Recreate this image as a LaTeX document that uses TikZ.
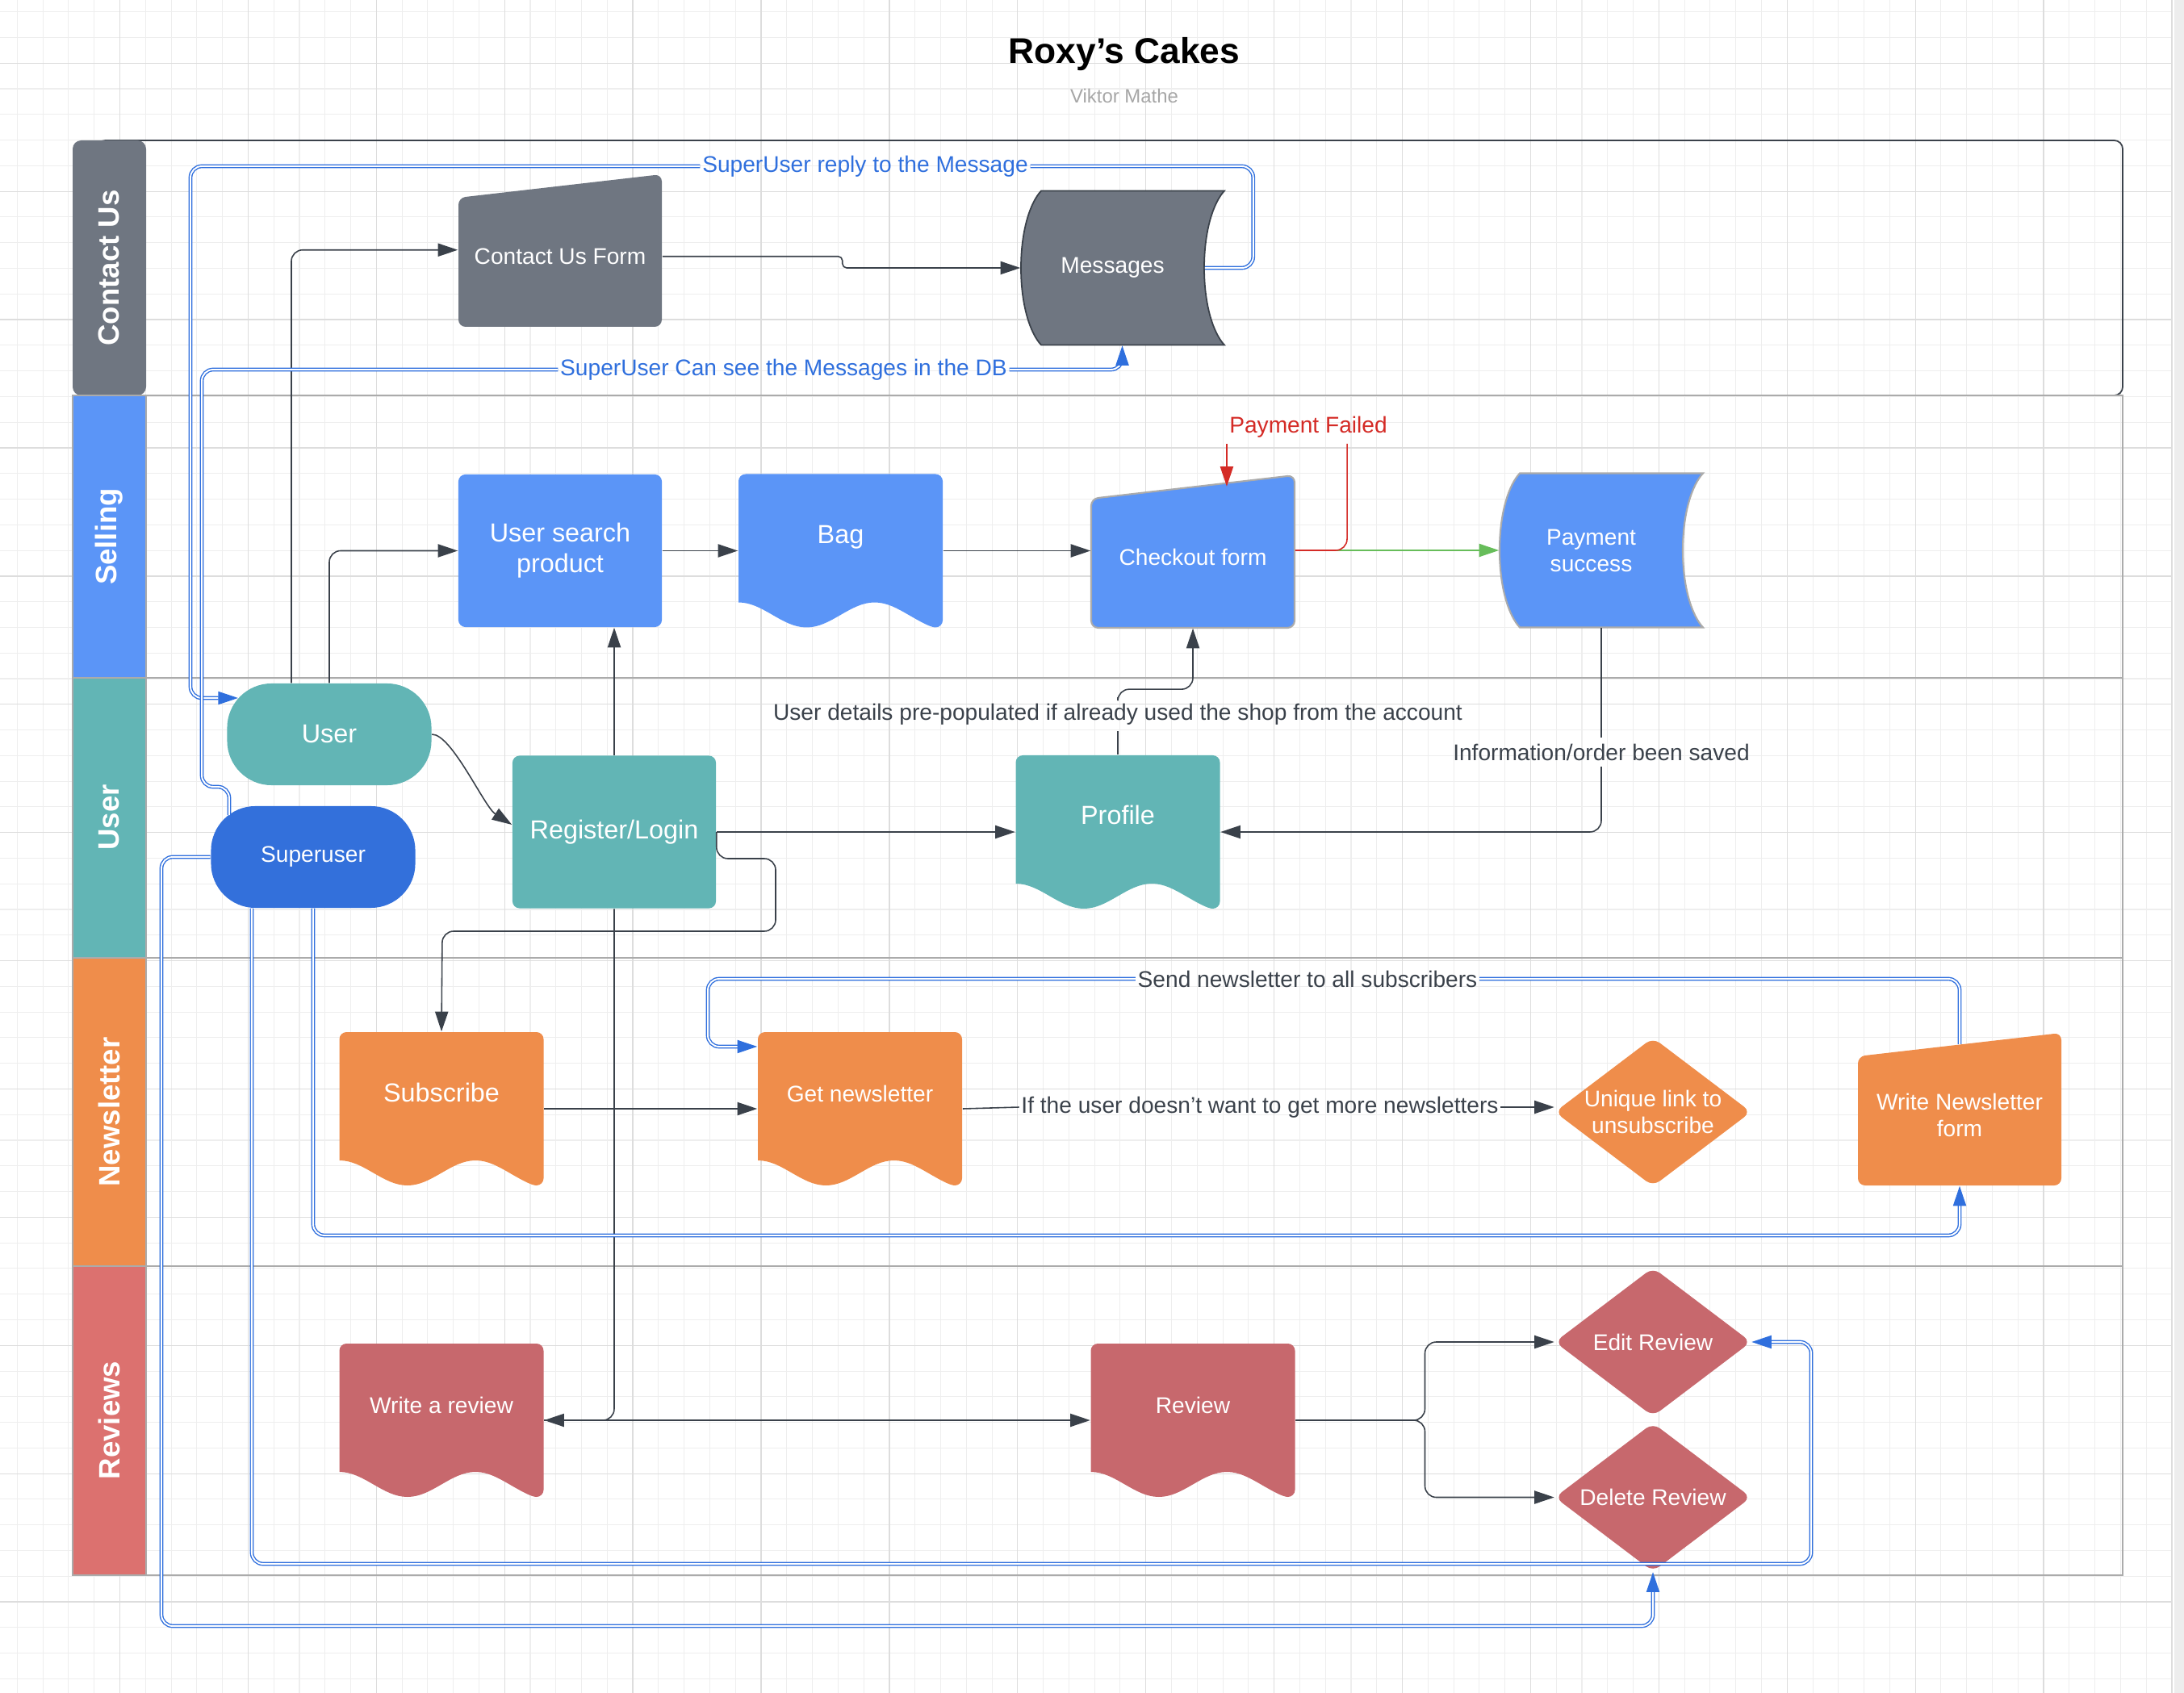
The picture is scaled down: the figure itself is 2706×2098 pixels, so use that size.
\documentclass[tikz,border=0pt]{standalone}
\usepackage{fontspec}
\setmainfont{Liberation Sans}
\usetikzlibrary{arrows.meta,calc}

\definecolor{conn}{HTML}{3A414A}
\definecolor{sublue}{HTML}{2F6FDD}
\definecolor{contactgray}{HTML}{6F7681}
\definecolor{sellblue}{HTML}{5B95F7}
\definecolor{userteal}{HTML}{62B5B5}
\definecolor{superblue}{HTML}{3370DB}
\definecolor{nlorange}{HTML}{EF8D4B}
\definecolor{revred}{HTML}{C7686D}
\definecolor{revhead}{HTML}{DC716F}
\definecolor{lanegray}{HTML}{ABABAB}
\definecolor{failred}{HTML}{D42B26}
\definecolor{okgreen}{HTML}{67BD5A}
\definecolor{gridminor}{HTML}{EEEEEE}
\definecolor{gridmajor}{HTML}{DDDDDD}

\tikzset{
  shapetext/.style={text=white, align=center, inner sep=0pt, font=\fontsize{8}{9.4}\selectfont},
  bigtext/.style={font=\fontsize{9.2}{10.8}\selectfont},
  docbox/.style={shapetext, minimum width=2.53cm, minimum height=1.9cm, text height=0.3cm, text depth=0.48cm},
  formbox/.style={shapetext, minimum width=2.52cm, minimum height=1.745cm},
  storebox/.style={shapetext, minimum width=2.27cm, minimum height=1.91cm},
  decbox/.style={shapetext, minimum width=2.43cm, minimum height=1.84cm},
  procbox/.style={shapetext, rounded corners=2.5pt, minimum width=2.52cm, minimum height=1.89cm},
  termbox/.style={shapetext, rounded corners=0.55cm, minimum width=2.53cm, minimum height=1.26cm},
  lanehead/.style={rotate=90, text=white, font=\bfseries\fontsize{10.4}{12}\selectfont},
  lbl/.style={text=conn, inner xsep=0.6pt, inner ysep=2pt, font=\fontsize{8}{9.4}\selectfont},
  sulbl/.style={lbl, text=sublue},
  flow/.style={draw=conn, line width=0.45pt, rounded corners=4pt},
  okflow/.style={flow, draw=okgreen},
  failflow/.style={flow, draw=failred},
  suflow/.style={draw=sublue, line width=0.4pt, double=white, double distance=0.55pt, rounded corners=4pt},
  laneline/.style={draw=lanegray, line width=0.75pt}
}

% document shape (wavy bottom)
\newcommand{\docnode}[5][]{%
  \path[#3, shift={(#4)}] (126.5,95) cos (84.33,79.5) sin (42.17,64) cos (0,79.5) sin (-42.17,95)
    cos (-84.33,79.5) sin (-126.5,64) [rounded corners=2.5pt] -- (-126.5,-95) -- (126.5,-95) -- cycle;
  \node[docbox,#1] (#2) at (#4) {#5};}
% manual input (slanted top)
\newcommand{\formnode}[5][]{%
  \path[#3, shift={(#4)}, rounded corners=2.5pt] (-126,87.25) -- (-126,-72.75) -- (126,-101.75) -- (126,87.25) -- cycle;
  \node[formbox,#1] (#2) at (#4) {#5};}
% stored data
\newcommand{\storenode}[5][]{%
  \path[#3, shift={(#4)}] (-88.5,-95.5) -- (138.5,-95.5) .. controls (124.5,-80.5) and (113.5,-45.5) .. (113.5,0)
    .. controls (113.5,45.5) and (124.5,80.5) .. (138.5,95.5) -- (-88.5,95.5)
    .. controls (-102.5,80.5) and (-113.5,45.5) .. (-113.5,0) .. controls (-113.5,-45.5) and (-102.5,-80.5) .. (-88.5,-95.5) -- cycle;
  \node[storebox,#1] (#2) at (#4) {#5};}
% decision
\newcommand{\decnode}[5][]{%
  \path[#3, shift={(#4)}, rounded corners=3pt] (0,-92) -- (121.5,0) -- (0,92) -- (-121.5,0) -- cycle;
  \node[decbox,#1] (#2) at (#4) {#5};}

\begin{document}
\begin{tikzpicture}[x=0.01cm, y=-0.01cm, >={Triangle[length=7pt,width=4.6pt]}]
\useasboundingbox (0,0) rectangle (2706,2098);
% canvas grid
\foreach \i in {0,...,84} \draw[gridminor, line width=0.3pt] ({21.4+31.78*\i},0) -- ({21.4+31.78*\i},2098);
\foreach \j in {0,...,65} \draw[gridminor, line width=0.3pt] (0,{14.7+31.78*\j}) -- (2691,{14.7+31.78*\j});
\foreach \i in {0,...,16} \draw[gridmajor, line width=0.35pt] ({148.5+158.9*\i},0) -- ({148.5+158.9*\i},2098);
\foreach \j in {0,...,12} \draw[gridmajor, line width=0.35pt] (0,{78.3+158.9*\j}) -- (2691,{78.3+158.9*\j});
\fill[black!7] (2694,0) rectangle (2706,2098);

\node[font=\bfseries\fontsize{12.6}{15}\selectfont] (title) at (1393,67) {Roxy’s Cakes};
\node[text=black!35, font=\fontsize{6.8}{8}\selectfont] (author) at (1393,119) {Viktor Mathe};

% swimlanes
\draw[conn, line width=0.5pt, rounded corners=3pt] (120,174) rectangle (2630,490);
\fill[contactgray, rounded corners=3pt] (90,174) rectangle (181,490);
\fill[sellblue] (91,490) rectangle (181,840);
\fill[userteal] (91,840) rectangle (181,1187);
\fill[nlorange] (91,1187) rectangle (181,1569);
\fill[revhead] (91,1569) rectangle (181,1952);
\draw[laneline] (90,490) rectangle (2630,1952);
\foreach \y in {840,1187,1569} \draw[laneline] (90,\y) -- (2630,\y);
\draw[laneline] (181,490) -- (181,1952);
\node[lanehead] (lcontact) at (135,332) {Contact Us};
\node[lanehead] (lselling) at (135,665) {Selling};
\node[lanehead] (luser) at (135,1013) {User};
\node[lanehead] (lnews) at (135,1378) {Newsletter};
\node[lanehead] (lreviews) at (135,1760) {Reviews};

% shapes
\formnode{form}{fill=contactgray}{694,317.75}{Contact Us Form}
\storenode{messages}{fill=contactgray, draw=conn, line width=0.5pt}{1378.5,332}{Messages}
\node[procbox, bigtext, fill=sellblue] (search) at (694,682.5) {User search\\product};
\docnode[bigtext]{bag}{fill=sellblue}{1041.5,682.5}{Bag}
\formnode{checkout}{fill=sellblue, draw=lanegray, line width=0.6pt}{1478,690.75}{Checkout form}
\storenode{pay}{fill=sellblue, draw=lanegray, line width=0.6pt}{1971.5,682}{Payment\\success}
\node[termbox, bigtext, fill=userteal] (user) at (408,910) {User};
\node[termbox, fill=superblue] (superuser) at (388,1062) {Superuser};
\node[procbox, bigtext, fill=userteal] (register) at (761,1031) {Register/Login};
\docnode[bigtext]{profile}{fill=userteal}{1385,1031}{Profile}
\docnode[bigtext]{subscribe}{fill=nlorange}{547,1374}{Subscribe}
\docnode{getnews}{fill=nlorange}{1065.5,1374}{Get newsletter}
\decnode{unique}{fill=nlorange}{2048,1378}{Unique link to\\unsubscribe}
\formnode{wnl}{fill=nlorange}{2428,1381.75}{Write Newsletter\\form}
\docnode{write}{fill=revred}{547,1760}{Write a review}
\docnode{review}{fill=revred}{1478,1760}{Review}
\decnode{edit}{fill=revred}{2048,1663}{Edit Review}
\decnode{delete}{fill=revred}{2048,1855.5}{Delete Review}

% connector labels
\node[sulbl] (replylbl) at (1072,206) {SuperUser reply to the Message};
\node[sulbl] (seelbl) at (971,458) {SuperUser Can see the Messages in the DB};
\node[lbl, text=failred] (failed) at (1621,529) {Payment Failed};
\node[lbl] (prepop) at (1385,885) {User details pre-populated if already used the shop from the account};
\node[lbl] (saved) at (1984,932) {Information/order been saved};
\node[lbl] (sendlbl) at (1620,1213) {Send newsletter to all subscribers};
\node[lbl] (unsublbl) at (1561,1372) {If the user doesn’t want to get more newsletters};
\coordinate (userin) at (295,865);
\coordinate (sutop) at (284,1010);

% flows
\draw[flow,->] ([xshift=-0.47cm]user.north) |- ([yshift=0.08cm]form.west);
\draw[flow,->,rounded corners=1.5pt] (form.east) -- ++(223,0) |- (messages.west);
\draw[flow,->] (user.north) |- (search.west);
\draw[flow,->] (search.east) -- (search.east -| bag.west);
\draw[flow,->] (search.east -| bag.east) -- (search.east -| checkout.west);
\draw[okflow,->] (checkout.east |- pay.west) -- (pay.west);
\draw[failflow] (checkout.east |- pay.west) -| ([xshift=0.48cm]failed.south);
\draw[failflow,->] ([xshift=-1.01cm]failed.south) -- ([xshift=-1.01cm]failed.south |- checkout.north);
\draw[flow] (profile.north) -- (prepop.south);
\draw[flow,->] (prepop.north) -- ++(0,-10) -| (checkout.south);
\draw[flow] (saved.north |- pay.south) -- (saved.north);
\draw[flow,->] (saved.south) |- (register.east -| profile.east);
\draw[flow,->] (register.east) -- (register.east -| profile.west);
\draw[flow,->] (register.north) -- (register.north |- search.south);
\draw[flow,->] (user.east) .. controls (560,910) and (600,1000) .. ([yshift=0.09cm]register.west);
\draw[flow,->] (register.east) |- (961,1064) |- (548,1154) -- (subscribe.north);
\draw[flow,->] (register.south) |- (write.east);
\draw[flow,->] (write.east) -- (review.west);
\draw[flow,->] (review.east) -| ($(review.east)!0.5!(edit.west)$) |- (edit.west);
\draw[flow,->] (review.east) -| ($(review.east)!0.5!(delete.west)$) |- (delete.west);
\draw[flow,->] (subscribe.east) -- (getnews.west);
\draw[flow] (getnews.east) -- (unsublbl.west);
\draw[flow,->] (unsublbl.east) -- (unsublbl.east -| unique.west);

% superuser flows
\draw[suflow] (messages.east) -- ++(60,0) |- (replylbl.east);
\draw[suflow,->] (replylbl.west) -| (236,865) -- (userin);
\draw[suflow] (sutop) |- (250,975) |- (seelbl.west);
\draw[suflow,->] (seelbl.east) -| ([xshift=0.12cm]messages.south);
\draw[suflow,->] (superuser.south) |- (2428,1531) -- (wnl.south);
\draw[suflow,->] ([xshift=-0.76cm]superuser.south) |- (2244,1938) |- (edit.east);
\draw[suflow,->] (superuser.west) -| (200,2015) -| (delete.south);
\draw[suflow] (wnl.north) |- (sendlbl.east);
\draw[suflow,->] (sendlbl.west) -| (877,1297) -- ([yshift=0.77cm]getnews.west);
\end{tikzpicture}
\end{document}
